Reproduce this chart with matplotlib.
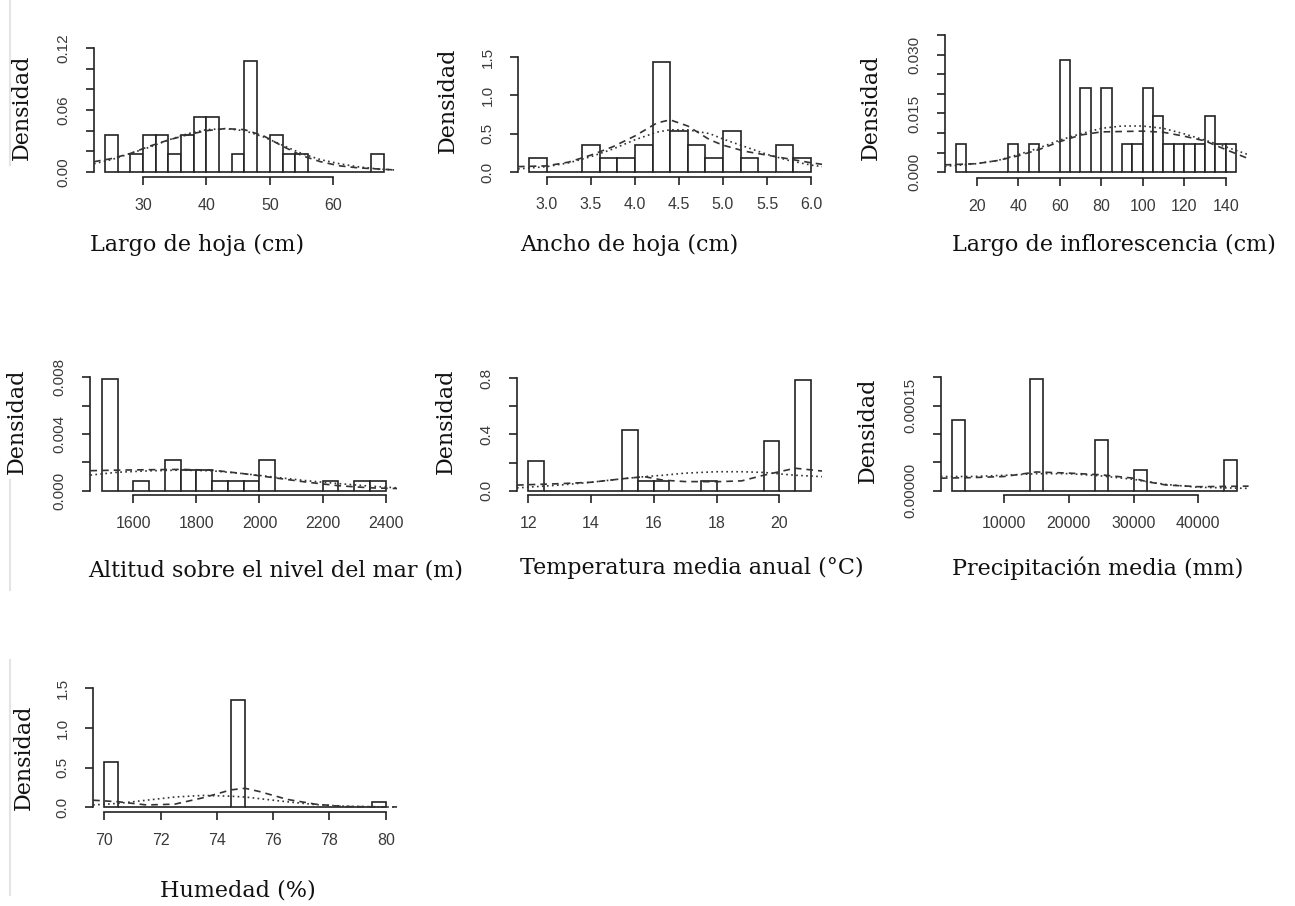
import numpy as np
import matplotlib
matplotlib.use('Agg')
import matplotlib.pyplot as plt
from matplotlib.lines import Line2D

# === DATA (counts per bin) ===
# Largo de hoja (cm), bins of 2 from 24 to 68
hoja_largo_start, hoja_largo_width = 24, 2
hoja_largo_counts = [2, 0, 1, 2, 2, 1, 2, 3, 3, 0, 1, 6, 0, 2, 1, 1, 0, 0, 0, 0, 0, 1]
hoja_largo_cx = [22.24, 25, 28, 31, 34, 37, 40, 43, 46, 49, 52, 55, 58, 61, 64, 67, 69.76]
hoja_largo_dash = [0.010, 0.013, 0.018, 0.025, 0.031, 0.036, 0.040, 0.042, 0.041, 0.035,
                   0.025, 0.016, 0.010, 0.006, 0.004, 0.003, 0.002]
hoja_largo_dot = [0.008, 0.012, 0.018, 0.024, 0.031, 0.037, 0.041, 0.042, 0.040, 0.034,
                  0.026, 0.018, 0.012, 0.008, 0.005, 0.003, 0.002]

# Ancho de hoja (cm), bins of 0.2 from 2.8 to 6.0
hoja_ancho_start, hoja_ancho_width = 2.8, 0.2
hoja_ancho_counts = [1, 0, 0, 2, 1, 1, 2, 8, 3, 2, 1, 3, 1, 0, 2, 1]
hoja_ancho_cx = [2.672, 3.0, 3.25, 3.5, 3.75, 4.0, 4.25, 4.4, 4.6, 4.85, 5.0, 5.25, 5.5, 5.75, 6.0, 6.128]
hoja_ancho_dash = [0.07, 0.08, 0.13, 0.22, 0.33, 0.47, 0.64, 0.68, 0.60, 0.42, 0.35, 0.27, 0.22, 0.17, 0.12, 0.10]
hoja_ancho_dot = [0.04, 0.07, 0.12, 0.20, 0.30, 0.42, 0.52, 0.55, 0.55, 0.50, 0.43, 0.33, 0.23, 0.15, 0.09, 0.07]

# Largo de inflorescencia (cm), bins of 5 from 10 to 145
inflo_start, inflo_width = 10, 5
inflo_counts = [1, 0, 0, 0, 0, 1, 0, 1, 0, 0, 4, 0, 3, 0, 3, 0, 1, 1, 3, 2, 1, 1, 1, 1, 2, 1, 1]
inflo_cx = [4.6, 20, 30, 40, 50, 60, 70, 80, 90, 100, 110, 120, 130, 140, 150.4]
inflo_dash = [0.0019, 0.0022, 0.0030, 0.0042, 0.0058, 0.0078, 0.0095, 0.0103, 0.0104, 0.0105,
              0.0102, 0.0092, 0.0080, 0.0058, 0.0036]
inflo_dot = [0.0015, 0.0022, 0.0030, 0.0045, 0.0062, 0.0082, 0.0098, 0.0112, 0.0118, 0.0118,
             0.0112, 0.0098, 0.0082, 0.0065, 0.0046]

# Altitud (m), bins of 50 from 1500 to 2400
alt_start, alt_width = 1500, 50
alt_counts = [11, 0, 1, 0, 3, 2, 2, 1, 1, 1, 3, 0, 0, 0, 1, 0, 1, 1]
alt_cx = [1464, 1550, 1650, 1750, 1850, 1950, 2050, 2150, 2250, 2350, 2436]
alt_dash = [0.00141, 0.00145, 0.00148, 0.00150, 0.00145, 0.00120, 0.00090, 0.00060, 0.00035, 0.00020, 0.00015]
alt_dot = [0.00110, 0.00130, 0.00140, 0.00145, 0.00140, 0.00120, 0.00095, 0.00070, 0.00050, 0.00032, 0.00020]

# Temperatura media anual (°C), bins of 0.5 from 12 to 21
temp_start, temp_width = 12, 0.5
temp_counts = [3, 0, 0, 0, 0, 0, 6, 1, 1, 0, 0, 1, 0, 0, 0, 5, 0, 11]
temp_cx = [11.64, 13, 14, 15, 15.7, 16.3, 17, 18, 18.8, 19.5, 20.5, 21.36]
temp_dash = [0.040, 0.050, 0.060, 0.085, 0.100, 0.075, 0.065, 0.064, 0.070, 0.110, 0.160, 0.140]
temp_dot = [0.020, 0.040, 0.060, 0.085, 0.100, 0.110, 0.125, 0.135, 0.135, 0.130, 0.110, 0.100]

# Precipitación media (mm), bins of 2000 from 2000 to 46000
prec_start, prec_width = 2000, 2000
prec_counts = [7, 0, 0, 0, 0, 0, 11, 0, 0, 0, 0, 5, 0, 0, 2, 0, 0, 0, 0, 0, 0, 3]
prec_cx = [240, 5000, 10000, 15000, 20000, 25000, 30000, 32000, 35000, 40000, 47760]
prec_dash = [2.2e-5, 2.3e-5, 2.5e-5, 3.3e-5, 3.1e-5, 2.8e-5, 2.2e-5, 1.6e-5, 1.0e-5, 7e-6, 8e-6]
prec_dot = [2.5e-5, 2.5e-5, 2.7e-5, 3.0e-5, 3.0e-5, 2.6e-5, 2.0e-5, 1.6e-5, 1.1e-5, 6e-6, 4e-6]

# Humedad (%), bins of 0.5 from 70 to 80
hum_start, hum_width = 70, 0.5
hum_counts = [8, 0, 0, 0, 0, 0, 0, 0, 0, 19, 0, 0, 0, 0, 0, 0, 0, 0, 0, 1]
hum_cx = [69.6, 70.5, 71.5, 72.5, 73.5, 74.5, 75.0, 75.5, 76.5, 77.5, 78.5, 80.4]
hum_dash = [0.09, 0.07, 0.03, 0.04, 0.12, 0.22, 0.24, 0.20, 0.10, 0.04, 0.01, 0.005]
hum_dot = [0.03, 0.05, 0.09, 0.13, 0.15, 0.14, 0.13, 0.11, 0.07, 0.035, 0.015, 0.002]

xlabels = ["Largo de hoja (cm)", "Ancho de hoja (cm)", "Largo de inflorescencia (cm)",
           "Altitud sobre el nivel del mar (m)", "Temperatura media anual (°C)",
           "Precipitación media (mm)", "Humedad (%)"]

# === LAYOUT (pixels of the 1295x906 picture) ===
W, H = 1295, 906
fig = plt.figure(figsize=(W / 100, H / 100), dpi=100)

panels = [
    dict(start=hoja_largo_start, width=hoja_largo_width, counts=hoja_largo_counts,
         cx=hoja_largo_cx, dash=hoja_largo_dash, dot=hoja_largo_dot,
         box=(94, 43, 395, 177), xt=[30, 40, 50, 60], xtl=['30', '40', '50', '60'],
         yt=[0, 0.02, 0.04, 0.06, 0.08, 0.10, 0.12], ytl=['0.00', '', '', '0.06', '', '', '0.12'],
         ylab=(22, 107), xlab=(90, 245)),
    dict(start=hoja_ancho_start, width=hoja_ancho_width, counts=hoja_ancho_counts,
         cx=hoja_ancho_cx, dash=hoja_ancho_dash, dot=hoja_ancho_dot,
         box=(518, 52.4, 822.3, 176.6), xt=[3.0, 3.5, 4.0, 4.5, 5.0, 5.5, 6.0],
         xtl=['3.0', '3.5', '4.0', '4.5', '5.0', '5.5', '6.0'],
         yt=[0, 0.5, 1.0, 1.5], ytl=['0.0', '0.5', '1.0', '1.5'],
         ylab=(448, 100), xlab=(520, 245)),
    dict(start=inflo_start, width=inflo_width, counts=inflo_counts,
         cx=inflo_cx, dash=inflo_dash, dot=inflo_dot,
         box=(944.7, 29.5, 1247.3, 177.8), xt=[20, 40, 60, 80, 100, 120, 140],
         xtl=['20', '40', '60', '80', '100', '120', '140'],
         yt=[0, 0.005, 0.010, 0.015, 0.020, 0.025, 0.030, 0.035],
         ytl=['0.000', '', '', '0.015', '', '', '0.030', ''],
         ylab=(871, 107), xlab=(952, 245)),
    dict(start=alt_start, width=alt_width, counts=alt_counts,
         cx=alt_cx, dash=alt_dash, dot=alt_dot,
         box=(90.4, 372.8, 397, 495.2), xt=[1600, 1800, 2000, 2200, 2400],
         xtl=['1600', '1800', '2000', '2200', '2400'],
         yt=[0, 0.002, 0.004, 0.006, 0.008], ytl=['0.000', '', '0.004', '', '0.008'],
         ylab=(17, 421), xlab=(88, 570)),
    dict(start=temp_start, width=temp_width, counts=temp_counts,
         cx=temp_cx, dash=temp_dash, dot=temp_dot,
         box=(517, 373.8, 822, 495.2), xt=[12, 14, 16, 18, 20],
         xtl=['12', '14', '16', '18', '20'],
         yt=[0, 0.2, 0.4, 0.6, 0.8], ytl=['0.0', '', '0.4', '', '0.8'],
         ylab=(446, 421), xlab=(520, 568)),
    dict(start=prec_start, width=prec_width, counts=prec_counts,
         cx=prec_cx, dash=prec_dash, dot=prec_dot,
         box=(940.8, 372.8, 1248.6, 495.2), xt=[10000, 20000, 30000, 40000],
         xtl=['10000', '20000', '30000', '40000'],
         yt=[0, 0.00005, 0.00010, 0.00015, 0.00020],
         ytl=['0.00000', '', '', '0.00015', ''],
         ylab=(868, 430), xlab=(952, 568)),
    dict(start=hum_start, width=hum_width, counts=hum_counts,
         cx=hum_cx, dash=hum_dash, dot=hum_dot,
         box=(93.1, 683.5, 397, 812.1), xt=[70, 72, 74, 76, 78, 80],
         xtl=['70', '72', '74', '76', '78', '80'],
         yt=[0, 0.5, 1.0, 1.5], ytl=['0.0', '0.5', '1.0', '1.5'],
         ylab=(24, 757), xlab=(160, 890)),
]

ink = '#222222'
for p, xl in zip(panels, xlabels):
    l, t, r, b = p['box']
    ax = fig.add_axes([l / W, 1 - b / H, (r - l) / W, (b - t) / H])
    counts = np.array(p['counts'], dtype=float)
    nb = len(counts)
    edges = p['start'] + p['width'] * np.arange(nb)
    dens = counts / (counts.sum() * p['width'])
    ax.bar(edges, dens, width=p['width'], align='edge', facecolor='white',
           edgecolor=ink, linewidth=1.2, zorder=2)
    ax.plot(p['cx'], p['dash'], color='#333333', lw=1.2, ls=(0, (4, 3)), zorder=3)
    ax.plot(p['cx'], p['dot'], color='#333333', lw=1.2, ls=(0, (1, 2)), zorder=3)

    x0, x1 = edges[0], edges[-1] + p['width']
    dx = 0.04 * (x1 - x0)
    ax.set_xlim(x0 - dx, x1 + dx)
    ytop = p['yt'][-1]
    ax.set_ylim(-0.04 * ytop, 1.04 * ytop)

    for s in ['top', 'right']:
        ax.spines[s].set_visible(False)
    for s in ['left', 'bottom']:
        ax.spines[s].set_linewidth(1.2)
        ax.spines[s].set_color(ink)
    ax.spines['left'].set_bounds(p['yt'][0], p['yt'][-1])
    ax.spines['bottom'].set_bounds(p['xt'][0], p['xt'][-1])
    ax.patch.set_visible(False)

    ax.set_xticks(p['xt'])
    ax.set_xticklabels(p['xtl'], fontsize=11.5, color='#3a3a3a', family='Liberation Sans')
    ax.set_yticks(p['yt'])
    ax.set_yticklabels(p['ytl'], fontsize=11, color='#3a3a3a', family='Liberation Sans',
                       rotation=90, va='center')
    ax.tick_params(axis='x', direction='out', length=6, width=1.2, color=ink, pad=9)
    ax.tick_params(axis='y', direction='out', length=6, width=1.2, color=ink, pad=11)

    yx, yy = p['ylab']
    fig.text(yx / W, 1 - yy / H, 'Densidad', rotation=90, ha='center', va='center',
             fontsize=16, family='DejaVu Serif', color='#111111')
    lx, ly = p['xlab']
    fig.text(lx / W, 1 - ly / H, xl, ha='left', va='center',
             fontsize=16, family='DejaVu Serif', color='#111111')

# faint page border on the left
for y0, y1 in [(0, 165), (480, 590), (660, 895)]:
    fig.add_artist(Line2D([10 / W, 10 / W], [1 - y0 / H, 1 - y1 / H],
                          color='#e4e4e4', lw=1.5))

fig.savefig('out.png', dpi=100, facecolor='white')
